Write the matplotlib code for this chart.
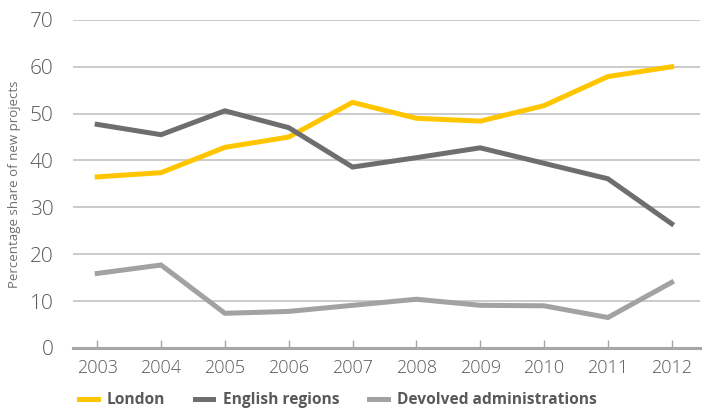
import matplotlib.pyplot as plt

years = [2003, 2004, 2005, 2006, 2007, 2008, 2009, 2010, 2011, 2012]
london = [36.5, 37.4, 42.8, 45.0, 52.4, 49.0, 48.4, 51.7, 57.9, 60.0]
english_regions = [47.7, 45.5, 50.6, 47.0, 38.6, 40.6, 42.7, 39.4, 36.1, 26.5]
devolved = [15.9, 17.7, 7.4, 7.8, 9.1, 10.4, 9.1, 9.0, 6.5, 14.0]

plt.rcParams['font.family'] = ['Open Sans', 'DejaVu Sans']

fig = plt.figure(figsize=(7.05, 4.18), dpi=100)
ax = fig.add_axes([0.1035, 0.1675, 0.89, 0.785])

x = list(range(len(years)))
ax.plot(x, london, color='#FFC600', lw=3.6, label='London', solid_joinstyle='miter')
ax.plot(x, english_regions, color='#6E6E6E', lw=3.6, label='English regions', solid_joinstyle='miter')
ax.plot(x, devolved, color='#A2A2A2', lw=3.6, label='Devolved administrations', solid_joinstyle='miter')

ax.set_ylim(0, 70)
ax.set_xlim(-0.38, 9.45)
ax.set_yticks(range(0, 71, 10))
ax.set_xticks(x)
ax.set_xticklabels([str(y) for y in years])

for s in ['left', 'right', 'top']:
    ax.spines[s].set_visible(False)
ax.spines['bottom'].set_color('#A6A6A6')
ax.spines['bottom'].set_linewidth(2.2)
ax.grid(axis='y', color='#BDBDBD', lw=1.1)
ax.set_axisbelow(True)

ax.tick_params(axis='y', length=0, pad=14, labelsize=15, labelcolor='#595959')
ax.tick_params(axis='x', direction='in', length=6, width=1, color='#A6A6A6',
               pad=8, labelsize=13, labelcolor='#595959')
for lab in ax.get_xticklabels() + ax.get_yticklabels():
    lab.set_fontweight('light')

ax.set_ylabel('Percentage share of new projects', fontsize=9.5, color='#6E6E6E', labelpad=6)

leg = fig.legend(loc='lower left', bbox_to_anchor=(0.092, -0.01), ncol=3, frameon=False,
                 handlelength=1.2, columnspacing=1.9, handletextpad=0.6,
                 prop={'weight': 'bold', 'size': 11.2})
for t in leg.get_texts():
    t.set_color('#595959')

fig.savefig('out.png', dpi=100)
